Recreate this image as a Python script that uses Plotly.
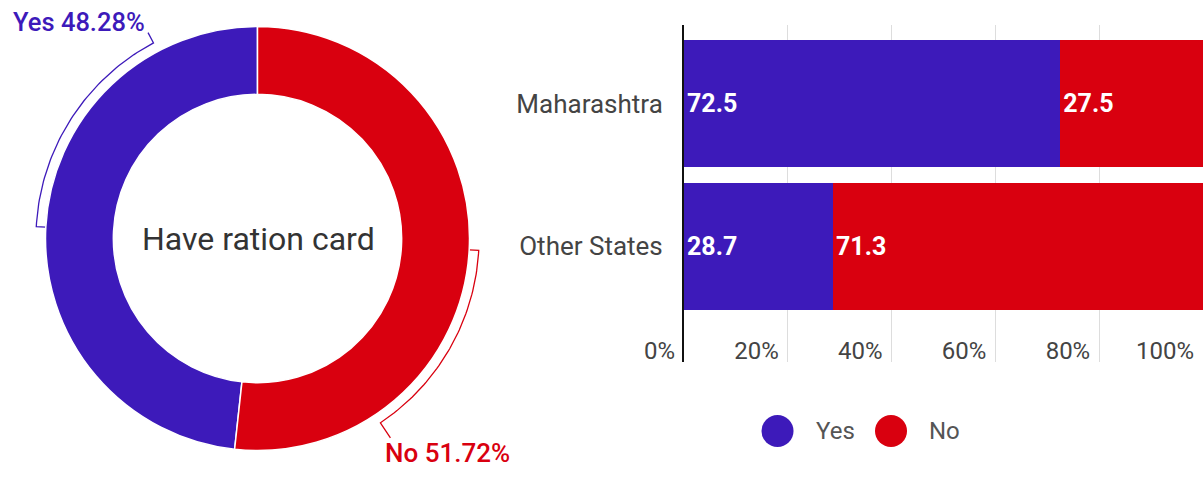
import math
import plotly.graph_objects as go

# Donut: share of respondents who have a ration card
donut_labels = ["Yes", "No"]
donut_values = [48.28, 51.72]

# Stacked bars: ration card holders by place of origin
states = ["Maharashtra", "Other States"]
yes_pct = [72.5, 28.7]
no_pct = [27.5, 71.3]

x_ticks = [0, 20, 40, 60, 80, 100]
x_tick_text = [f"{t}%" for t in x_ticks]

BLUE = "#3D1ABA"
RED = "#D9000F"
FONT = "Roboto"
W, H = 1203, 489


def px_x(p):
    return p / W


def px_y(p):
    return 1 - p / H


fig = go.Figure()

total = sum(donut_values)
shares = [v / total for v in donut_values]

# ---- donut -------------------------------------------------------------
PIE_CX, PIE_CY, PIE_R = 257.5, 238.5, 212.0
pie_dom_x = [px_x(PIE_CX - PIE_R), px_x(PIE_CX + PIE_R)]
pie_dom_y = [px_y(PIE_CY + PIE_R), px_y(PIE_CY - PIE_R)]

# "Yes" runs anticlockwise from 12 o'clock, "No" clockwise from it
fig.add_trace(go.Pie(
    labels=donut_labels, values=donut_values, hole=0.68, sort=False,
    direction="clockwise", rotation=-shares[0] * 360,
    marker=dict(colors=[BLUE, RED], line=dict(color="white", width=1.5)),
    textinfo="none", domain=dict(x=pie_dom_x, y=pie_dom_y), showlegend=False,
))


def polar(r, theta_deg):
    # counter-clockwise angle measured from 12 o'clock
    t = math.radians(theta_deg)
    return -math.sin(t) * r, math.cos(t) * r


def bracket(theta_mid, theta_end, r_in=1.0, r_arc=1.045, r_out=1.10, n=60):
    xs, ys = [], []
    for r in (r_in, r_arc):
        x, y = polar(r, theta_mid)
        xs.append(x); ys.append(y)
    for i in range(1, n + 1):
        th = theta_mid + (theta_end - theta_mid) * i / n
        x, y = polar(r_arc, th)
        xs.append(x); ys.append(y)
    x, y = polar(r_out, theta_end)
    xs.append(x); ys.append(y)
    return xs, ys


slice_colors = [BLUE, RED]
label_angles = [28.0, 213.7]
outer_r = [1.10, 1.13]
start = 0.0
ends = []
for share, color, th_end, r_out in zip(shares, slice_colors, label_angles, outer_r):
    mid = (start + share / 2) * 360
    bx, by = bracket(mid, th_end, r_out=r_out)
    fig.add_trace(go.Scatter(
        x=bx, y=by, mode="lines", line=dict(color=color, width=1.3),
        xaxis="x2", yaxis="y2", showlegend=False, hoverinfo="skip",
    ))
    ends.append((bx[-1], by[-1]))
    start += share

# slice labels
fig.add_annotation(
    x=ends[0][0], y=ends[0][1], xref="x2", yref="y2",
    text=f"{donut_labels[0]} {donut_values[0]:.2f}%", showarrow=False,
    xanchor="right", yanchor="bottom", xshift=-1, yshift=-6,
    font=dict(family=FONT, size=25.5, color=BLUE, weight=500),
)
fig.add_annotation(
    x=ends[1][0], y=ends[1][1], xref="x2", yref="y2",
    text=f"{donut_labels[1]} {donut_values[1]:.2f}%", showarrow=False,
    xanchor="left", yanchor="top", xshift=-7, yshift=2,
    font=dict(family=FONT, size=26, color=RED, weight=500),
)
fig.add_annotation(
    x=0, y=0, xref="x2", yref="y2", text="Have ration card", showarrow=False,
    xshift=1, font=dict(family=FONT, size=32, color="#333333"),
)

# ---- stacked bars ------------------------------------------------------
for name, vals, color in (("Yes", yes_pct, BLUE), ("No", no_pct, RED)):
    fig.add_trace(go.Bar(
        y=states, x=vals, name=name, orientation="h",
        marker=dict(color=color, line=dict(width=0)),
        text=[f"{v:g}" for v in vals], textposition="inside",
        insidetextanchor="start", constraintext="none",
        textfont=dict(family=FONT, size=25, color="white", weight="bold"),
        width=0.89, showlegend=False, xaxis="x", yaxis="y",
        cliponaxis=False,
    ))

# ---- legend ------------------------------------------------------------
legend_names = ["Yes", "No"]
legend_colors = [BLUE, RED]
leg_x = [777.5 + i * 113.5 for i in range(len(legend_names))]
leg_y = [431] * len(legend_names)
fig.add_trace(go.Scatter(
    x=leg_x, y=leg_y, mode="markers",
    marker=dict(size=32, color=legend_colors, line=dict(width=0)),
    xaxis="x3", yaxis="y3", showlegend=False, hoverinfo="skip",
))
for lx, ly, nm in zip(leg_x, leg_y, legend_names):
    fig.add_annotation(
        x=lx + 36, y=ly, xref="x3", yref="y3", text=nm, showarrow=False,
        xanchor="left", yanchor="middle",
        font=dict(family=FONT, size=24, color="#555555"),
    )

hidden = dict(visible=False, fixedrange=True, automargin=False)

# overlay axes for the donut callouts: unit = donut radius, centred on it
ov_x0, ov_x1 = 0.0, 520.0
ov_dom_x = [px_x(ov_x0), px_x(ov_x1)]
ov_range_x = [(ov_x0 - PIE_CX) / PIE_R, (ov_x1 - PIE_CX) / PIE_R]
ov_range_y = [-(H - PIE_CY) / PIE_R, PIE_CY / PIE_R]

fig.update_layout(
    width=W, height=H, margin=dict(l=0, r=0, t=0, b=0, autoexpand=False),
    paper_bgcolor="white", plot_bgcolor="white",
    barmode="stack", bargap=0.11, showlegend=False,
    font=dict(family=FONT),
    xaxis=dict(
        domain=[px_x(684), 1], range=[0, 100], tickvals=x_ticks,
        ticktext=x_tick_text, showgrid=True, gridcolor="#dddddd",
        gridwidth=1, zeroline=False, showline=False, ticks="",
        ticklabelposition="outside left", ticklabelstandoff=-28,
        ticklabelshift=-9, automargin=False,
        tickfont=dict(family=FONT, size=24, color="#444444"),
        fixedrange=True,
    ),
    yaxis=dict(
        domain=[px_y(362), px_y(25)], type="category",
        categoryorder="array", categoryarray=states,
        range=[1.811, -0.549], showline=True, linecolor="#111111",
        linewidth=2, showgrid=False, zeroline=False, ticks="",
        ticklabelstandoff=14, automargin=False,
        tickfont=dict(family=FONT, size=26, color="#444444"),
        fixedrange=True,
    ),
    xaxis2=dict(domain=ov_dom_x, range=ov_range_x, **hidden),
    yaxis2=dict(domain=[0, 1], range=ov_range_y, **hidden),
    xaxis3=dict(domain=[px_x(740), px_x(1000)], range=[740, 1000], **hidden),
    yaxis3=dict(domain=[px_y(465), px_y(400)], range=[465, 400], **hidden),
)

fig.write_html("out.html")
